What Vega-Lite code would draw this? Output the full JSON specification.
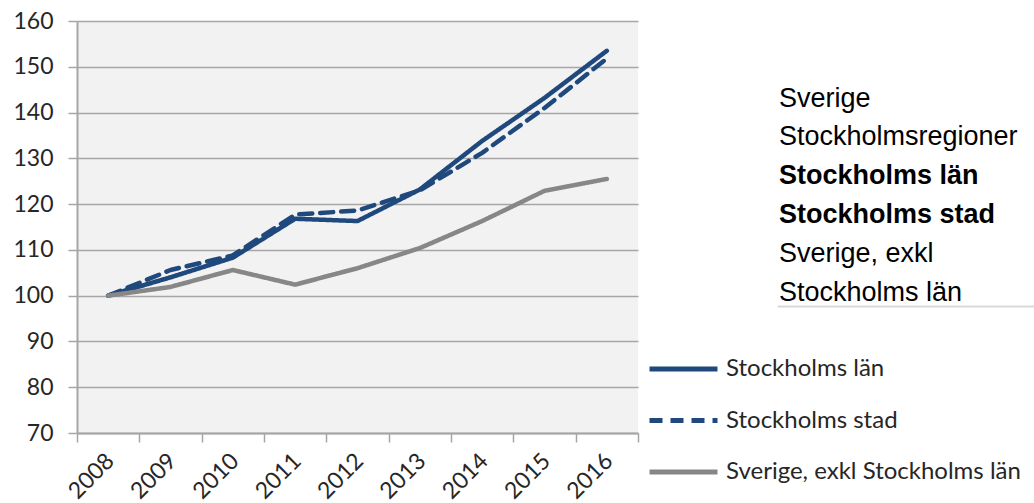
{
  "$schema": "https://vega.github.io/schema/vega-lite/v6.json",
  "padding": {"left": 0, "top": 10, "right": 0, "bottom": 0},
  "background": "white",
  "spacing": 97,
  "config": {
    "font": "Lato",
    "view": {"stroke": null},
    "axis": {"labelFont": "Lato", "labelColor": "#262626"}
  },
  "datasets": {
    "series": [
      {"year": 2008, "series": "Stockholms län", "value": 100},
      {"year": 2009, "series": "Stockholms län", "value": 104.0},
      {"year": 2010, "series": "Stockholms län", "value": 108.3},
      {"year": 2011, "series": "Stockholms län", "value": 116.8},
      {"year": 2012, "series": "Stockholms län", "value": 116.3},
      {"year": 2013, "series": "Stockholms län", "value": 123.2},
      {"year": 2014, "series": "Stockholms län", "value": 133.8},
      {"year": 2015, "series": "Stockholms län", "value": 143.2},
      {"year": 2016, "series": "Stockholms län", "value": 153.5},
      {"year": 2008, "series": "Stockholms stad", "value": 100},
      {"year": 2009, "series": "Stockholms stad", "value": 105.6},
      {"year": 2010, "series": "Stockholms stad", "value": 108.8},
      {"year": 2011, "series": "Stockholms stad", "value": 117.7},
      {"year": 2012, "series": "Stockholms stad", "value": 118.6},
      {"year": 2013, "series": "Stockholms stad", "value": 123.0},
      {"year": 2014, "series": "Stockholms stad", "value": 131.2},
      {"year": 2015, "series": "Stockholms stad", "value": 141.0},
      {"year": 2016, "series": "Stockholms stad", "value": 151.8},
      {"year": 2008, "series": "Sverige, exkl Stockholms län", "value": 100},
      {"year": 2009, "series": "Sverige, exkl Stockholms län", "value": 101.9},
      {"year": 2010, "series": "Sverige, exkl Stockholms län", "value": 105.6},
      {"year": 2011, "series": "Sverige, exkl Stockholms län", "value": 102.4},
      {"year": 2012, "series": "Sverige, exkl Stockholms län", "value": 106.0},
      {"year": 2013, "series": "Sverige, exkl Stockholms län", "value": 110.4},
      {"year": 2014, "series": "Sverige, exkl Stockholms län", "value": 116.3},
      {"year": 2015, "series": "Sverige, exkl Stockholms län", "value": 122.9},
      {"year": 2016, "series": "Sverige, exkl Stockholms län", "value": 125.5}
    ],
    "textblock": [
      {"line": 1, "label": "Sverige", "bold": false},
      {"line": 2, "label": "Stockholmsregioner", "bold": false},
      {"line": 3, "label": "Stockholms län", "bold": true},
      {"line": 4, "label": "Stockholms stad", "bold": true},
      {"line": 5, "label": "Sverige, exkl", "bold": false},
      {"line": 6, "label": "Stockholms län", "bold": false}
    ]
  },
  "hconcat": [
    {
      "width": 561,
      "height": 412,
      "data": {"name": "series"},
      "view": {"fill": "#f2f2f2", "stroke": null},
      "mark": {"type": "line", "strokeWidth": 4.5, "strokeCap": "round", "strokeJoin": "round"},
      "encoding": {
        "x": {
          "field": "year", "type": "quantitative",
          "scale": {"domain": [2007.5, 2016.5], "nice": false, "zero": false},
          "axis": {
            "values": [2007.5, 2008.5, 2009.5, 2010.5, 2011.5, 2012.5, 2013.5, 2014.5, 2015.5, 2016.5],
            "labelExpr": "datum.value < 2016 ? '' + (datum.value + 0.5) : ''",
            "labelAngle": -45, "labelAlign": "right", "labelBaseline": "middle",
            "labelOffset": 33, "labelPadding": 15, "tickSize": 9,
            "grid": false, "title": null,
            "domainColor": "#a6a6a6", "domainWidth": 2,
            "tickColor": "#a6a6a6", "tickWidth": 1.5,
            "labelFontSize": 23, "labelOverlap": false, "labelBound": false, "labelFlush": false
          }
        },
        "y": {
          "field": "value", "type": "quantitative",
          "scale": {"domain": [70, 160], "nice": false, "zero": false},
          "axis": {
            "values": [70, 80, 90, 100, 110, 120, 130, 140, 150, 160],
            "tickSize": 9, "labelPadding": 15, "title": null,
            "grid": true, "gridColor": "#a6a6a6", "gridWidth": 1.5,
            "domainColor": "#a6a6a6", "domainWidth": 2,
            "tickColor": "#a6a6a6", "tickWidth": 1.5,
            "labelFontSize": 23, "labelOverlap": false, "labelFlush": false,
            "minExtent": 77, "maxExtent": 77
          }
        },
        "color": {
          "field": "series", "type": "nominal",
          "scale": {"domain": ["Stockholms län", "Stockholms stad", "Sverige, exkl Stockholms län"], "range": ["#1f497d", "#1f497d", "#878787"]},
          "legend": {
            "orient": "none", "legendX": 570, "legendY": 338, "title": null,
            "symbolType": "stroke", "symbolSize": 4624, "symbolStrokeWidth": 5,
            "labelFont": "Lato", "labelFontSize": 24, "labelColor": "#262626", "labelLimit": 400,
            "labelOffset": 6, "rowPadding": 27.5, "clipHeight": 20, "padding": 0
          }
        },
        "strokeDash": {
          "field": "series", "type": "nominal",
          "scale": {"domain": ["Stockholms län", "Stockholms stad", "Sverige, exkl Stockholms län"], "range": [[1, 0], [13, 8], [1, 0]]}
        }
      }
    },
    {
      "width": 259,
      "height": 285,
      "data": {"name": "textblock"},
      "encoding": {
        "x": {
          "datum": 0, "type": "quantitative",
          "scale": {"domain": [0, 1]},
          "axis": {"orient": "bottom", "domain": true, "ticks": false, "labels": false, "grid": false, "title": null, "domainColor": "#d9d9d9", "domainWidth": 2}
        },
        "y": {
          "field": "line", "type": "ordinal", "axis": null,
          "scale": {"type": "band", "paddingInner": 0, "paddingOuter": 0.6727, "align": 1}
        },
        "text": {"field": "label"}
      },
      "layer": [
        {
          "transform": [{"filter": "!datum.bold"}],
          "mark": {"type": "text", "align": "left", "baseline": "alphabetic", "dx": 2, "dy": 14, "font": "Liberation Sans", "fontSize": 27, "color": "black", "limit": 257, "ellipsis": ""}
        },
        {
          "transform": [{"filter": "datum.bold"}],
          "mark": {"type": "text", "align": "left", "baseline": "alphabetic", "dx": 2, "dy": 14, "font": "Liberation Sans", "fontSize": 27, "fontWeight": "bold", "color": "black", "limit": 257, "ellipsis": ""}
        }
      ]
    }
  ]
}
